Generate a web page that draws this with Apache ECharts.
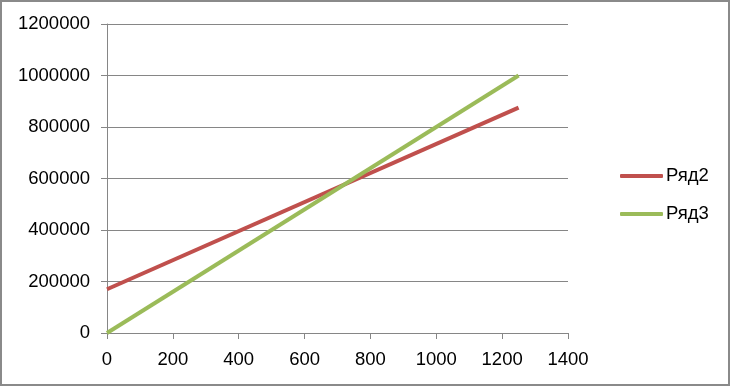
<!DOCTYPE html>
<html>
<head>
<meta charset="utf-8">
<script src="https://cdn.jsdelivr.net/npm/echarts@6/dist/echarts.min.js"></script>
<style>
html,body{margin:0;padding:0;background:#fff;}
#c{width:730px;height:386px;box-sizing:border-box;border:2px solid #8a8a8a;}
</style>
</head>
<body>
<div id="c"></div>
<script>
var seriesNames = ['Ряд2', 'Ряд3'];
var xValues = [0, 1250];
var ryad2 = [170000, 875000];
var ryad3 = [0, 1000000];
var xTicks = [0, 200, 400, 600, 800, 1000, 1200, 1400];
var yTicks = [0, 200000, 400000, 600000, 800000, 1000000, 1200000];

var chart = echarts.init(document.getElementById('c'));
var font = 'Liberation Sans, Arial, sans-serif';
function pairs(xs, ys){ return xs.map(function(x,i){ return [x, ys[i]]; }); }
function plain(v){ return String(v); }
chart.setOption({
  animation: false,
  grid: { left: 105, right: 160, top: 22, bottom: 51, containLabel: false },
  xAxis: {
    type: 'value', min: xTicks[0], max: xTicks[xTicks.length-1], interval: 200,
    axisLine: { show: true, lineStyle: { color: '#868686', width: 1 } },
    axisTick: { show: true, length: 6, inside: false, lineStyle: { color: '#868686' } },
    axisLabel: { color: '#000', fontSize: 18.5, fontFamily: font, margin: 17, formatter: plain },
    splitLine: { show: false }
  },
  yAxis: {
    type: 'value', min: yTicks[0], max: yTicks[yTicks.length-1], interval: 200000,
    axisLine: { show: true, lineStyle: { color: '#868686', width: 1 } },
    axisTick: { show: true, length: 6, inside: false, lineStyle: { color: '#868686' } },
    axisLabel: { color: '#000', fontSize: 18.5, fontFamily: font, margin: 17, formatter: plain },
    splitLine: { show: true, lineStyle: { color: '#868686', width: 1 } }
  },
  legend: {
    orient: 'vertical', left: 618, top: 164, padding: 0,
    icon: 'roundRect', itemWidth: 43, itemHeight: 4, itemGap: 18,
    textStyle: { color: '#000', fontSize: 18.5, fontFamily: font, lineHeight: 20, padding: [0,0,0,-2] },
    data: seriesNames
  },
  series: [
    { name: seriesNames[0], type: 'line', data: pairs(xValues, ryad2), symbol: 'none',
      lineStyle: { color: '#C0504D', width: 4 }, itemStyle: { color: '#C0504D' } },
    { name: seriesNames[1], type: 'line', data: pairs(xValues, ryad3), symbol: 'none',
      lineStyle: { color: '#9BBB59', width: 4 }, itemStyle: { color: '#9BBB59' } }
  ]
});
</script>
</body>
</html>
